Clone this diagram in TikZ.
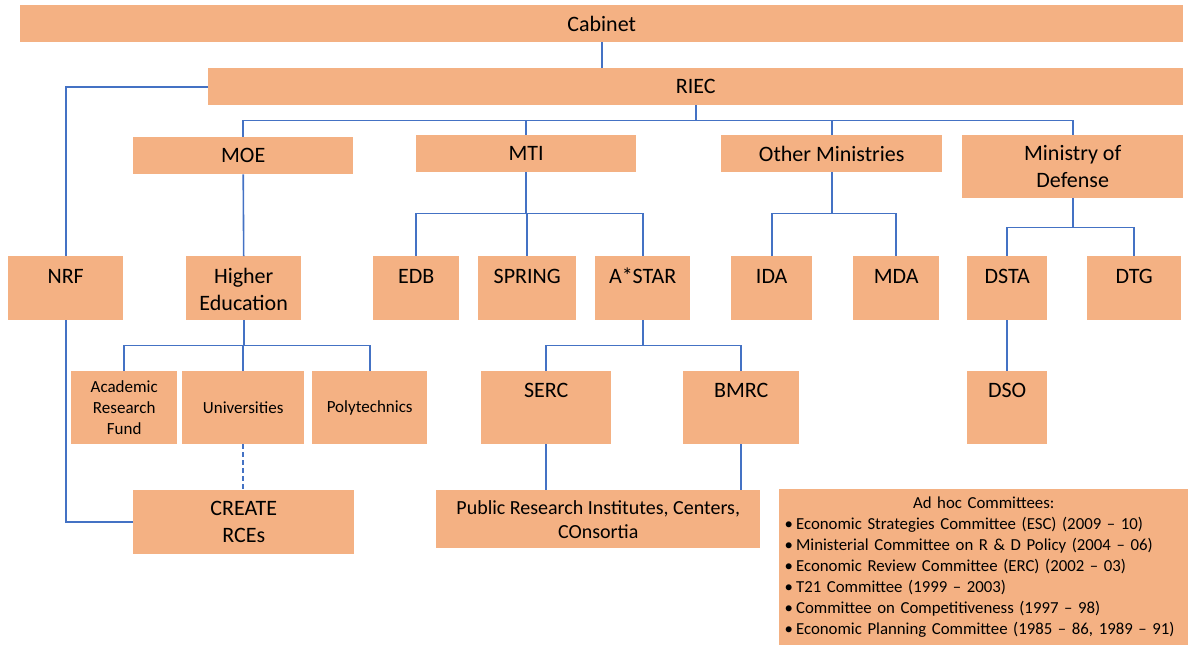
\documentclass[tikz,border=0pt]{standalone}
\usepackage{fontspec}
\setmainfont{Carlito}
\definecolor{boxfill}{HTML}{F4B183}
\definecolor{linec}{HTML}{4472C4}
\newcommand\bx[7]{\node[box,#6,minimum width={(#4-#2)*1pt},minimum height={(#5-#3)*1pt},anchor=north west] (#1) at (#2,#3) {#7};}
\begin{document}
\begin{tikzpicture}[x=1pt,y=-1pt,
  box/.style={fill=boxfill,draw=none,inner sep=0pt,align=center,font=\fontsize{22}{27}\selectfont},
  small/.style={font=\fontsize{17}{21}\selectfont},
  adf/.style={font=\fontsize{16.8}{21}\selectfont},
  pubf/.style={font=\fontsize{20}{24}\selectfont},
  txt/.style={inner sep=0pt,align=center,font=\fontsize{22}{27}\selectfont},
  conn/.style={draw=linec,line width=1.6pt},
  dconn/.style={conn,dash pattern=on 5pt off 3pt}]
\useasboundingbox (0,0) rectangle (1198,646);
% boxes
\bx{cab}{20}{5}{1183}{42}{}{Cabinet}
\bx{riec}{208}{68}{1183}{105}{}{RIEC}
\bx{moe}{133}{137}{353}{174}{}{MOE}
\bx{mti}{416}{135}{636}{172}{}{MTI}
\bx{oth}{721}{135}{942}{172}{}{Other Ministries}
\bx{mod}{962}{135}{1183}{198}{}{Ministry of\\Defense}
\bx{nrf}{8}{256}{123}{320}{}{}
\bx{he}{186}{256}{301}{320}{}{}
\bx{edb}{373}{256}{459}{320}{}{}
\bx{spring}{478}{256}{576}{320}{}{}
\bx{astar}{595}{256}{690}{320}{}{}
\bx{ida}{731}{256}{812}{320}{}{}
\bx{mda}{853}{256}{939}{320}{}{}
\bx{dsta}{967}{256}{1047}{320}{}{}
\bx{dtg}{1087}{256}{1181}{320}{}{}
\bx{arf}{71}{371}{177}{444}{small}{Academic\\Research\\Fund}
\bx{univ}{182}{371}{304}{444}{small}{Universities}
\bx{poly}{312}{371}{427}{444}{small}{Polytechnics}
\bx{serc}{481}{371}{611}{444}{}{}
\bx{bmrc}{683}{371}{799}{444}{}{}
\bx{dso}{967}{371}{1047}{444}{}{}
\bx{create}{133}{490}{354}{554}{}{CREATE\\RCEs}
\bx{pub}{436}{490}{760}{548}{pubf}{Public Research Institutes, Centers,\\COnsortia}
\node[box,adf,anchor=north west,minimum width=409pt,minimum height=156pt,text width=398pt,align=left] (adhoc) at (779,489)
 {\makebox[398pt]{Ad hoc Committees:}\\
  \textbullet\hspace{3pt}Economic Strategies Committee (ESC) (2009 – 10)\\
  \textbullet\hspace{3pt}Ministerial Committee on R \& D Policy (2004 – 06)\\
  \textbullet\hspace{3pt}Economic Review Committee (ERC) (2002 – 03)\\
  \textbullet\hspace{3pt}T21 Committee (1999 – 2003)\\
  \textbullet\hspace{3pt}Committee on Competitiveness (1997 – 98)\\
  \textbullet\hspace{3pt}Economic Planning Committee (1985 – 86, 1989 – 91)};
% top-aligned texts
\path (nrf.north) ++(0,20) node[txt] (nrft) {NRF};
\path (he.north) ++(0,33.5) node[txt] (het) {Higher\\Education};
\path (edb.north) ++(0,20) node[txt] (edbt) {EDB};
\path (spring.north) ++(0,20) node[txt] (springt) {SPRING};
\path (astar.north) ++(0,20) node[txt] (astart) {A*STAR};
\path (ida.north) ++(0,20) node[txt] (idat) {IDA};
\path (mda.north) ++(0,20) node[txt] (mdat) {MDA};
\path (dsta.north) ++(0,20) node[txt] (dstat) {DSTA};
\path (dtg.north) ++(0,20) node[txt] (dtgt) {DTG};
\path (serc.north) ++(0,19) node[txt] (serct) {SERC};
\path (bmrc.north) ++(0,19) node[txt] (bmrct) {BMRC};
\path (dso.north) ++(0,19) node[txt] (dsot) {DSO};
% connectors
\draw[conn] (cab.south) -- (cab.south |- riec.north);
\draw[conn] (riec.west) -| (nrf.north);
\draw[conn] (nrf.south) |- (create.west);
\draw[conn] (riec.south) -- ++(0,15) coordinate (rb) -| (moe.north);
\draw[conn] (rb) -| (mti.north);
\draw[conn] (rb) -| (oth.north);
\draw[conn] (rb) -| (mod.north);
\draw[conn] (moe.south) -- (he.north);
\draw[conn] (mti.south) -- ++(0,41) coordinate (mb) -| (edb.north);
\draw[conn] (mb) -| (spring.north);
\draw[conn] (mb) -| (astar.north);
\draw[conn] (oth.south) -- ++(0,41) coordinate (ob) -| (ida.north);
\draw[conn] (ob) -| (mda.north);
\draw[conn] (mod.south) -- ++(0,29) coordinate (db) -| (dsta.north);
\draw[conn] (db) -| (dtg.north);
\draw[conn] (he.south) -- ++(0,25) coordinate (hb) -| (arf.north);
\draw[conn] (hb) -| (univ.north);
\draw[conn] (hb) -| (poly.north);
\draw[conn] (astar.south) -- ++(0,25) coordinate (ab) -| (serc.north);
\draw[conn] (ab) -| (bmrc.north);
\draw[conn] (dsta.south) -- (dso.north);
\draw[dconn] (univ.south) -- (univ.south |- create.north);
\draw[conn] (serc.south) -- (serc.south |- pub.north);
\draw[conn] (bmrc.south) -- (bmrc.south |- pub.north);
\end{tikzpicture}
\end{document}
